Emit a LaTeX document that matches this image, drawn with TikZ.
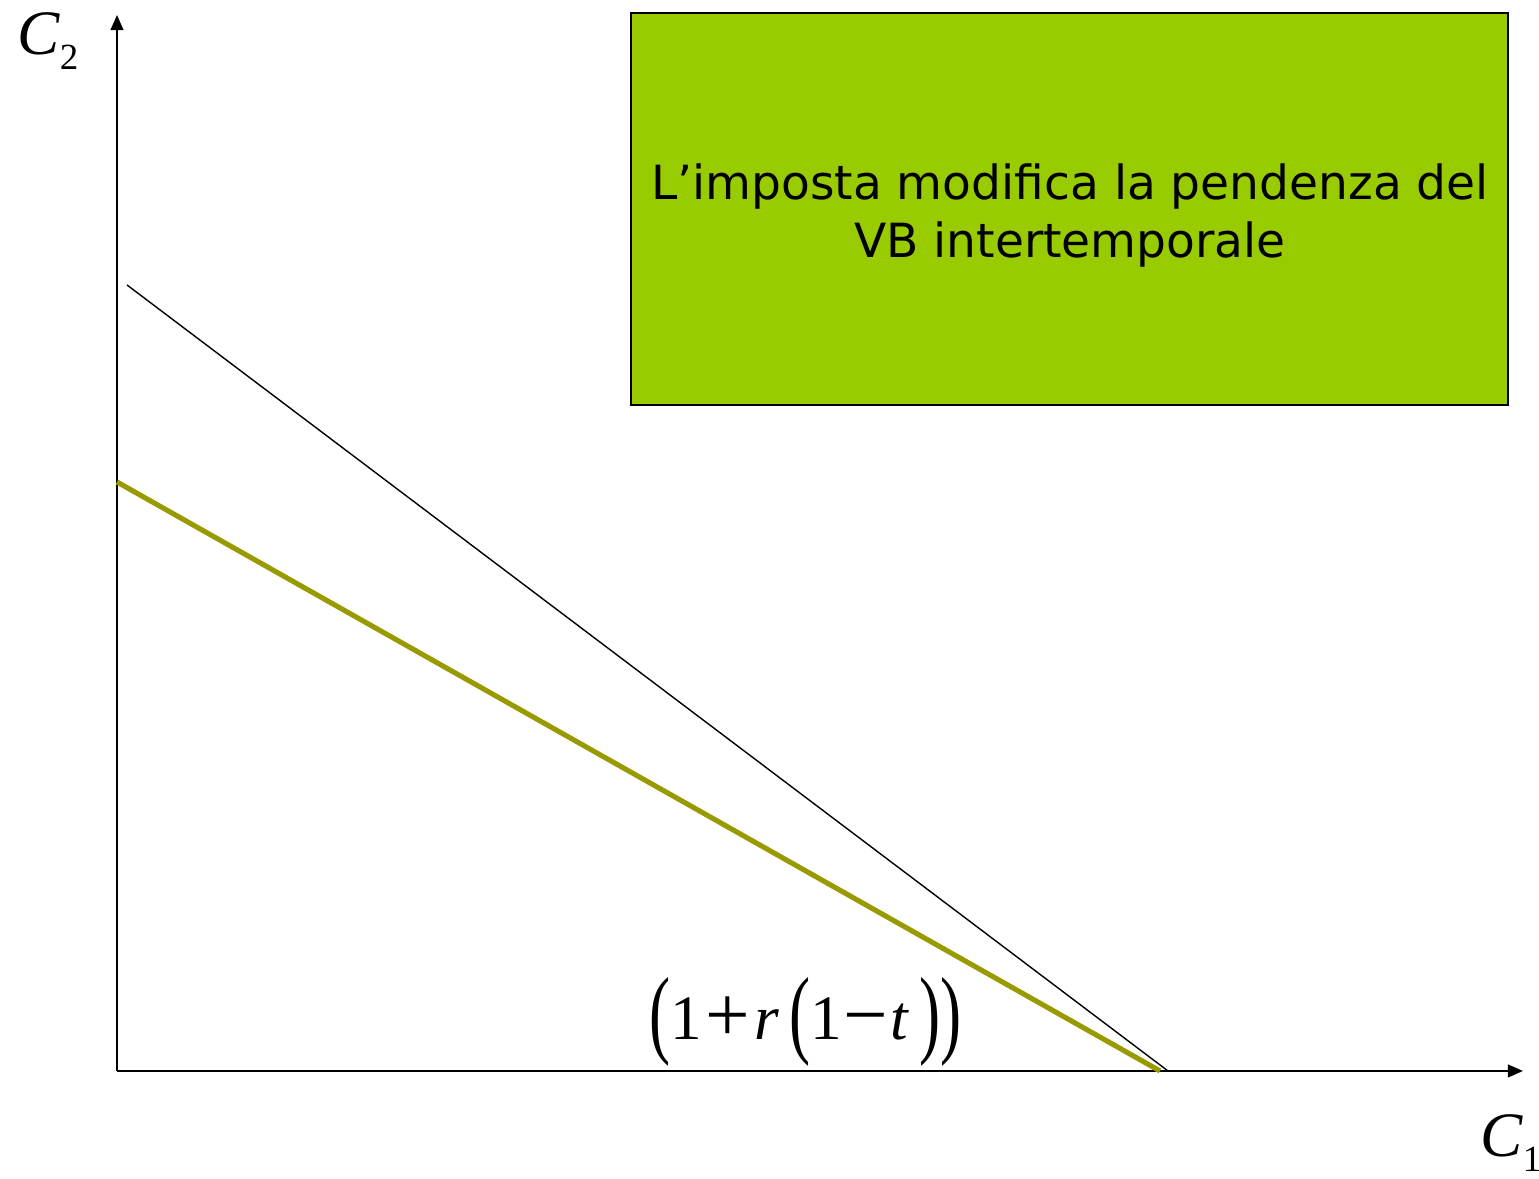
\documentclass[tikz,border=0pt]{standalone}
\usepackage{graphicx}
\usepackage{fontspec}
\newfontfamily\tms{Liberation Serif}
\newfontfamily\verd{DejaVu Sans}
\usetikzlibrary{arrows.meta,positioning}
\definecolor{cverde}{HTML}{99CC00}
\definecolor{coliva}{HTML}{999900}
\newcommand{\parg}[1]{\raisebox{-1.6pt}{\scalebox{1}[1.55]{#1}}}
\newcommand{\opg}[1]{\raisebox{-0.5pt}{\scalebox{1.25}{#1}}}
\tikzset{
  asse/.style={-{Triangle[length=4.3pt,width=3.6pt]},draw=black,line width=0.6pt},
  vincolo/.style={draw=black,line width=0.4pt},
  vincolot/.style={draw=coliva,line width=1.45pt},
  riquadro/.style={draw=black,line width=0.6pt,fill=cverde},
  testo/.style={font=\verd\fontsize{13.4}{16.5}\selectfont,align=center,inner sep=0pt},
  etasse/.style={font=\tms\fontsize{18}{21}\selectfont,inner sep=0pt,anchor=base west},
}
\begin{document}
\begin{tikzpicture}[x=1cm,y=1cm]
\useasboundingbox (0,0) rectangle (15.39,11.79);

% riquadro con il commento
\draw[riquadro] (6.31,7.74) rectangle (15.08,11.66);
\node[testo] (nota) at (10.70,9.63)
  {L’imposta modifica la pendenza del\\VB intertemporale};

% assi
\coordinate (O) at (1.17,1.08);
\coordinate (ytop) at (1.17,11.64);
\coordinate (xtop) at (15.23,1.08);
\draw[asse] (O) -- (ytop);
\draw[asse] (O) -- (xtop);
\node[etasse] (c2) at (0.17,11.24) {\itshape C\raisebox{-4.2pt}{\upshape\fontsize{10.5}{12}\selectfont 2}};
\node[etasse] (c1) at (14.80,0.22) {\itshape C\raisebox{-4.2pt}{\upshape\fontsize{10.5}{12}\selectfont 1}};

% vincoli di bilancio
\coordinate (a0) at (1.27,8.94);
\coordinate (a1) at (11.68,1.08);
\coordinate (b0) at (1.17,6.97);
\coordinate (b1) at (11.60,1.08);
\draw[vincolo] (a0) -- (a1);
\draw[vincolot] (b0) -- (b1);

\node[etasse] (pend) at (6.49,1.39)
  {\parg{(}1\kern1pt\opg{+}\kern1pt\textit{r}\,\parg{(}1\kern0.5pt\opg{−}\kern0.5pt\textit{t}\,\parg{)}\parg{)}};

\end{tikzpicture}
\end{document}
